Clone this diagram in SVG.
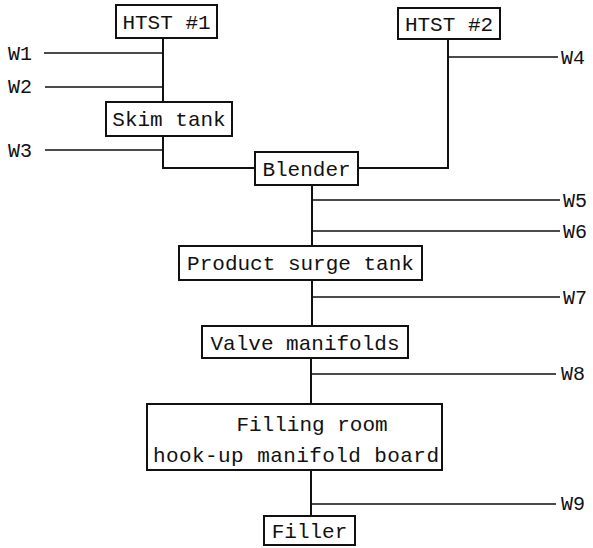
<svg xmlns="http://www.w3.org/2000/svg" width="593" height="548" viewBox="0 0 593 548">
<style>
.box{fill:#fff;stroke:#111;stroke-width:2}
.t{font-family:"Liberation Mono","DejaVu Sans Mono",monospace;font-size:21px;fill:#111}
.w{font-family:"Liberation Mono","DejaVu Sans Mono",monospace;font-size:20px;fill:#111}
.ln{stroke:#111;stroke-width:2;fill:none}
.br{stroke:#111;stroke-width:1.5;fill:none}
</style>
<rect width="593" height="548" fill="#fff"/>
<g id="connectors">
<path class="ln" d="M163,38V102M163,136V168H255M448,39V168H358M312,185V246M312,280V326M311,358V404M311,470V516"/>
<path class="br" d="M44,53H163M45,87H163M45,150H163M448,57H558M312,200H560M312,231H560M312,297H560M311,374H556M311,504H556"/>
<text class="w" x="8" y="60">W1</text>
<text class="w" x="8" y="93">W2</text>
<text class="w" x="8" y="157">W3</text>
<text class="w" x="561" y="64">W4</text>
<text class="w" x="563" y="207">W5</text>
<text class="w" x="563" y="238">W6</text>
<text class="w" x="563" y="304">W7</text>
<text class="w" x="561" y="380">W8</text>
<text class="w" x="561" y="510">W9</text>
</g>
<g id="htst1"><rect class="box" x="116" y="5" width="101" height="33"/><text class="t" x="166.5" y="29" text-anchor="middle">HTST #1</text></g>
<g id="htst2"><rect class="box" x="398" y="8" width="102" height="31"/><text class="t" x="449" y="31" text-anchor="middle">HTST #2</text></g>
<g id="skim"><rect class="box" x="106" y="102" width="126" height="34"/><text class="t" x="169" y="126" text-anchor="middle">Skim tank</text></g>
<g id="blender"><rect class="box" x="255" y="152" width="103" height="33"/><text class="t" x="306.5" y="176" text-anchor="middle">Blender</text></g>
<g id="surge"><rect class="box" x="179" y="246" width="243" height="34"/><text class="t" x="300.5" y="270" text-anchor="middle">Product surge tank</text></g>
<g id="valve"><rect class="box" x="202" y="326" width="206" height="32"/><text class="t" x="305" y="350" text-anchor="middle">Valve manifolds</text></g>
<g id="filling"><rect class="box" x="147" y="404" width="295" height="66"/><text class="t" x="312" y="431" text-anchor="middle">Filling room</text><text class="t" x="296" y="462" text-anchor="middle" textLength="286" lengthAdjust="spacing">hook-up manifold board</text></g>
<g id="filler"><rect class="box" x="264" y="516" width="91" height="29"/><text class="t" x="309.5" y="538" text-anchor="middle">Filler</text></g>
</svg>
